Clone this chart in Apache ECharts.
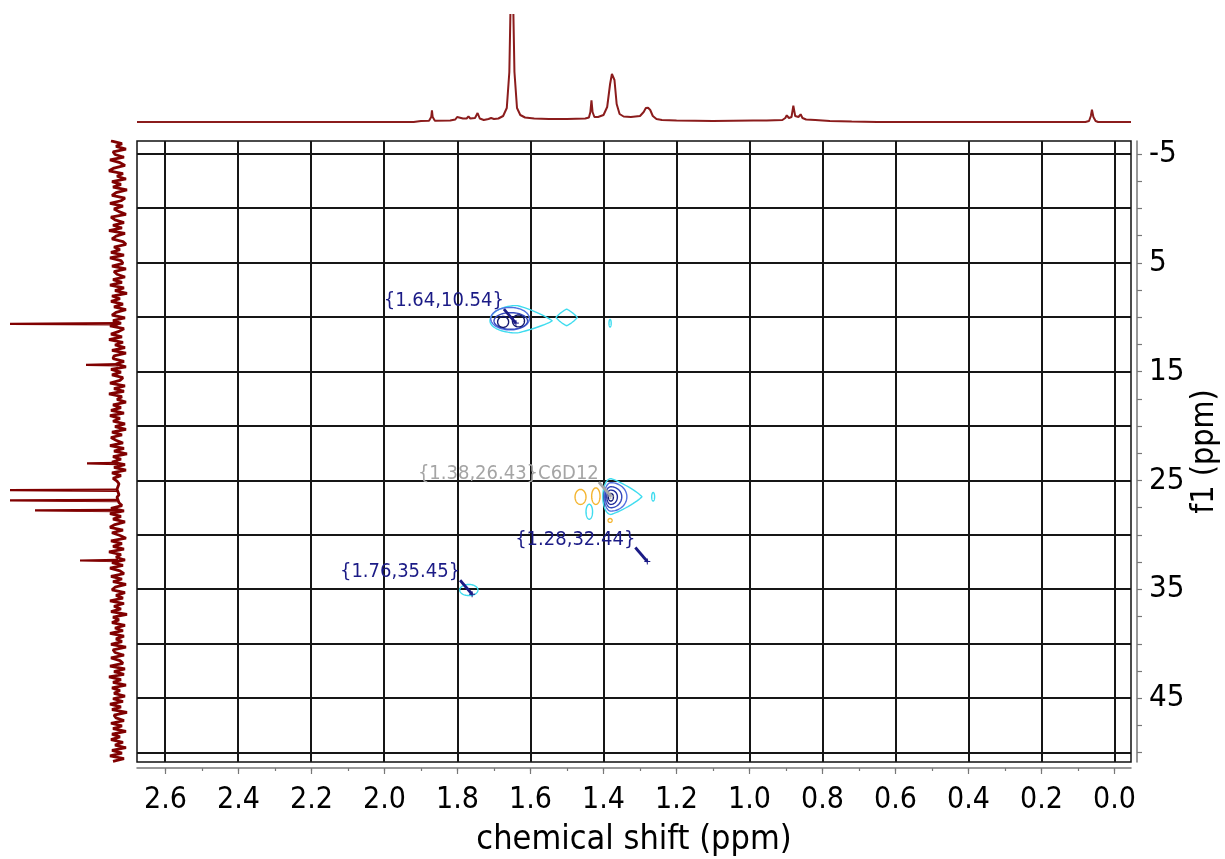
<!DOCTYPE html>
<html>
<head>
<meta charset="utf-8">
<script src="https://cdn.jsdelivr.net/npm/echarts@6/dist/echarts.min.js"></script>
<style>
  html, body { margin: 0; padding: 0; background: #fff; }
  #chart { width: 1225px; height: 859px; }
</style>
</head>
<body>
<div id="chart"></div>
<script>
// ---- axes (1H chemical shift horizontally, 13C f1 vertically) ----
const shiftRange = [-0.045, 2.678];
const f1Range = [-6.19, 50.86];
const shiftTicks = [2.6, 2.4, 2.2, 2.0, 1.8, 1.6, 1.4, 1.2, 1.0, 0.8, 0.6, 0.4, 0.2, 0.0];
const shiftMinorTicks = [2.6, 2.5, 2.4, 2.3, 2.2, 2.1, 2.0, 1.9, 1.8, 1.7, 1.6, 1.5, 1.4, 1.3, 1.2, 1.1,
  1.0, 0.9, 0.8, 0.7, 0.6, 0.5, 0.4, 0.3, 0.2, 0.1, 0.0];
const f1Labels = [-5, 5, 15, 25, 35, 45];
const f1Grid = [-5, 0, 5, 10, 15, 20, 25, 30, 35, 40, 45, 50];
const f1MinorTicks = [-5, -2.5, 0, 2.5, 5, 7.5, 10, 12.5, 15, 17.5, 20, 22.5, 25, 27.5, 30, 32.5,
  35, 37.5, 40, 42.5, 45, 47.5, 50];

// ---- 1H projection (top): [ppm, intensity] ----
const protonTrace = [
  [2.678, 0], [1.92, 0], [1.90, 1], [1.878, 1.2], [1.872, 5], [1.870, 11.7], [1.868, 5], [1.862, 1.3],
  [1.82, 1.5], [1.806, 2.5], [1.801, 5], [1.796, 3], [1.785, 3.5], [1.775, 3.5], [1.770, 5.7],
  [1.765, 3.5], [1.752, 4], [1.745, 9], [1.739, 3.5], [1.728, 2], [1.715, 3], [1.708, 4], [1.700, 3],
  [1.688, 3.5], [1.675, 6], [1.665, 14], [1.658, 50], [1.654, 130], [1.651, 160], [1.648, 130],
  [1.644, 50], [1.637, 14], [1.628, 7], [1.615, 4.5], [1.59, 3.5], [1.55, 3], [1.50, 3], [1.45, 3.5],
  [1.440, 4.5], [1.436, 10], [1.433, 21.7], [1.430, 10], [1.425, 5], [1.415, 5], [1.400, 7],
  [1.390, 15], [1.382, 38], [1.377, 48], [1.374, 49], [1.370, 42], [1.364, 18], [1.356, 8],
  [1.345, 5.5], [1.325, 5], [1.300, 6], [1.290, 10], [1.284, 14], [1.278, 14.3], [1.272, 12],
  [1.265, 6], [1.255, 3], [1.24, 2], [1.20, 1.5], [1.10, 1], [0.99, 1.5], [0.970, 1.5], [0.968, 3],
  [0.965, 1.5], [0.953, 1.5], [0.951, 3], [0.948, 1.5], [0.91, 2], [0.902, 4], [0.898, 6.7],
  [0.892, 4], [0.885, 5], [0.880, 16.3], [0.875, 6], [0.866, 5], [0.860, 7.7], [0.855, 4],
  [0.845, 2.5], [0.82, 2], [0.78, 1], [0.72, 0.5], [0.65, 0], [0.08, 0], [0.070, 1], [0.065, 6],
  [0.062, 12.3], [0.058, 5], [0.052, 1], [0.045, 0], [-0.045, 0]
];

// ---- 13C projection (left): baseline noise sampled every 0.25 ppm, plus peaks [f1, intensity] ----
const carbonNoiseStart = -6.2;
const carbonNoiseStep = 0.25;
const carbonNoise = [
  7, -4, 2, -8, 5, 3, -6, 8, -2, -7, 4, 9, -5, 1, -8, 6, -3, 5, -9, 2,
  6, -7, -3, 8, -5, 4, -1, -8, 7, 3, -6, 5, -4, 9, -7, 2, 6, -5, -8, 4,
  -2, 7, -6, 8, -3, -5, 6, -8, 4, 1, -7, 5, -4, 8, -6, 3, -9, 6, -2, 7,
  -5, 4, -8, 2, 6, -7, 5, -3, 8, -6, -1, 7, -4, 9, -5, 3, -7, 6, -8, 4,
  5, -6, 2, -8, 7, -3, 6, -5, -2, 8, -7, 4, -6, 9, -4, 1, -8, 5, -3, 7,
  -6, 8, -2, 5, -7, 3, -8, 6, -4, 7, 2, -5, 8, -6, 4, -9, 5, -3, 6, -7,
  4, -8, 6, -3, 5, 1, -1, 0, 1, 0, -1, 1, 0, -1, -4, 7, -6, 8, -3, 5,
  -7, 3, 8, -5, 6, -2, -8, 7, -4, 5, -6, 9, -3, 2, -7, 6, -5, 8, -2, -6,
  7, -4, 5, -8, 3, 6, -7, 2, -5, 8, -6, 4, -3, 7, -9, 5, -1, 6, -7, 3,
  -5, 8, -6, 2, -4, 7, -8, 5, 3, -6, 7, -2, -5, 8, -7, 4, -6, 9, -3, 5,
  -8, 6, -2, 4, -7, 5, -5, 8, -3, 6, -9, 4, 2, -6, 7, -4, 5, -8, 6, -2,
  7, -5, 3, -8, 6, -4, 8, -6, 5
];
const carbonPeaks = [
  [10.61, 108], [14.37, 32], [23.43, 31], [25.89, 108], [26.83, 108], [27.75, 83], [32.35, 38]
];

// ---- HSQC contours: [center 1H, center 13C, extent to higher ppm, extent to lower ppm,
//      extent up (13C), extent down (13C), level, shape] ----
const contours = [
  [1.637, 10.33, 0.074, 0.096, 1.40, 1.11, 0, 1],
  [1.656, 10.13, 0.053, 0.053, 1.03, 1.03, 1, 0],
  [1.654, 10.34, 0.046, 0.046, 0.76, 0.76, 2, 0],
  [1.675, 10.43, 0.015, 0.015, 0.50, 0.50, 4, 0],
  [1.633, 10.34, 0.0165, 0.0165, 0.55, 0.55, 4, 0],
  [1.501, 10.02, 0.029, 0.029, 0.76, 0.76, 0, 2],
  [1.382, 10.55, 0.003, 0.003, 0.35, 0.35, 0, 0],
  [1.380, 26.49, 0.022, 0.085, 1.66, 1.63, 0, 1],
  [1.380, 26.49, 0.018, 0.044, 1.29, 1.32, 1, 0],
  [1.380, 26.49, 0.015, 0.030, 0.92, 1.01, 2, 0],
  [1.380, 26.49, 0.011, 0.018, 0.61, 0.71, 3, 0],
  [1.380, 26.49, 0.0066, 0.0071, 0.30, 0.40, 4, 0],
  [1.264, 26.49, 0.004, 0.004, 0.39, 0.39, 0, 0],
  [1.463, 26.51, 0.015, 0.015, 0.69, 0.69, 5, 0],
  [1.421, 26.44, 0.0115, 0.0115, 0.76, 0.76, 5, 0],
  [1.439, 27.87, 0.009, 0.009, 0.69, 0.69, 0, 0],
  [1.382, 28.67, 0.0055, 0.0055, 0.18, 0.18, 5, 0],
  [1.769, 35.06, 0.025, 0.025, 0.51, 0.51, 0, 0]
];

// ---- peak annotations: [1H ppm, 13C ppm, compound] ----
const peakLabels = [
  [1.64, 10.54, ''],
  [1.38, 26.43, 'C6D12'],
  [1.28, 32.44, ''],
  [1.76, 35.45, '']
];

const FONT = '"DejaVu Sans Condensed", "DejaVu Sans", sans-serif';
const levelColors = ['#3fdcef', '#5170e0', '#3347bb', '#202c9c', '#10166e', '#f4b530'];

const chart = echarts.init(document.getElementById('chart'), null, { renderer: 'canvas' });

function gridItem(params, api) {
  const children = [];
  shiftTicks.forEach(function (v) {
    const a = api.coord([v, f1Range[0]]);
    const b = api.coord([v, f1Range[1]]);
    const x = Math.round(a[0]);
    children.push({ type: 'line', shape: { x1: x, y1: a[1], x2: x, y2: b[1] },
      style: { stroke: '#161616', lineWidth: 2 } });
  });
  f1Grid.forEach(function (v) {
    const a = api.coord([shiftRange[1], v]);
    const b = api.coord([shiftRange[0], v]);
    const y = Math.round(a[1]);
    children.push({ type: 'line', shape: { x1: a[0], y1: y, x2: b[0], y2: y },
      style: { stroke: '#161616', lineWidth: 2 } });
  });
  return { type: 'group', children: children };
}

function contourItem(params, api) {
  const cx = api.value(0), cy = api.value(1);
  const L = api.value(2), R = api.value(3), T = api.value(4), B = api.value(5);
  const level = api.value(6), kind = api.value(7);
  const c = api.coord([cx, cy]);
  const lp = Math.abs(api.coord([cx + L, cy])[0] - c[0]);
  const rp = Math.abs(api.coord([cx - R, cy])[0] - c[0]);
  const tp = Math.abs(api.coord([cx, cy - T])[1] - c[1]);
  const bp = Math.abs(api.coord([cx, cy + B])[1] - c[1]);
  const pts = [];
  const n = 72;
  for (let k = 0; k < n; k++) {
    const t = k / n * Math.PI * 2;
    const co = Math.cos(t), si = Math.sin(t);
    const right = co >= 0;
    const sharp = (kind === 1 && right) || kind === 2;
    const e = sharp ? 1.7 : 1;
    const fx = Math.sign(co) * Math.pow(Math.abs(co), e);
    const fy = Math.sign(si) * Math.pow(Math.abs(si), e);
    pts.push([c[0] + fx * (right ? rp : lp), c[1] + fy * (si >= 0 ? bp : tp)]);
  }
  return { type: 'polygon', shape: { points: pts },
    style: { fill: 'none', stroke: levelColors[level], lineWidth: 1.4 } };
}

function labelItem(params, api) {
  const item = peakLabels[params.dataIndex];
  const p = api.coord([api.value(0), api.value(1)]);
  const col = item[2] ? '#a5a5a5' : '#1b1b86';
  const text = '{' + item[0].toFixed(2) + ',' + item[1].toFixed(2) + '}' + item[2];
  return { type: 'group', children: [
    { type: 'line', shape: { x1: p[0] - 12, y1: p[1] - 14, x2: p[0], y2: p[1] },
      style: { stroke: col, lineWidth: 2.8 } },
    { type: 'line', shape: { x1: p[0] - 3, y1: p[1], x2: p[0] + 3, y2: p[1] },
      style: { stroke: col, lineWidth: 1 } },
    { type: 'line', shape: { x1: p[0], y1: p[1] - 3, x2: p[0], y2: p[1] + 3 },
      style: { stroke: col, lineWidth: 1 } },
    { type: 'text', style: { text: text, x: p[0] - 12, y: p[1] - 22, align: 'right',
      verticalAlign: 'middle', fill: col, font: '20px ' + FONT } }
  ] };
}

const hidden = { show: false };

const option = {
  animation: false,
  backgroundColor: '#ffffff',
  grid: [
    { left: 137, top: 141, width: 994, height: 621, show: true, borderColor: '#111', borderWidth: 1.5,
      backgroundColor: 'transparent', containLabel: false, outerBoundsMode: 'none' },
    { left: 137, top: 15, width: 994, height: 107, containLabel: false, outerBoundsMode: 'none' },
    { left: 0, top: 141, width: 137, height: 621, containLabel: false, outerBoundsMode: 'none' }
  ],
  xAxis: [
    { gridIndex: 0, type: 'value', min: shiftRange[0], max: shiftRange[1], inverse: true, show: false },
    { gridIndex: 0, type: 'value', min: shiftRange[0], max: shiftRange[1], inverse: true,
      position: 'bottom', offset: 6,
      axisLine: { show: true, onZero: false, lineStyle: { color: '#777', width: 1.5 } },
      axisTick: { show: true, customValues: shiftTicks, length: 6, lineStyle: { color: '#777', width: 1.2 } },
      axisLabel: { show: true, customValues: shiftTicks, formatter: function (v) { return v.toFixed(1); },
        fontSize: 30, color: '#000', fontFamily: FONT, margin: 17 },
      splitLine: hidden,
      name: 'chemical shift (ppm)', nameLocation: 'middle', nameGap: 55,
      nameTextStyle: { fontSize: 34, color: '#000', fontFamily: FONT } },
    { gridIndex: 0, type: 'value', min: shiftRange[0], max: shiftRange[1], inverse: true,
      position: 'bottom', offset: 6,
      axisLine: { show: false, onZero: false },
      axisTick: { show: true, customValues: shiftMinorTicks, length: 3, lineStyle: { color: '#777', width: 1.2 } },
      axisLabel: hidden, splitLine: hidden },
    { gridIndex: 1, type: 'value', min: shiftRange[0], max: shiftRange[1], inverse: true, show: false },
    { gridIndex: 2, type: 'value', min: -19, max: 118, inverse: true, show: false }
  ],
  yAxis: [
    { gridIndex: 0, type: 'value', min: f1Range[0], max: f1Range[1], inverse: true, show: false },
    { gridIndex: 0, type: 'value', min: f1Range[0], max: f1Range[1], inverse: true,
      position: 'right', offset: 6,
      axisLine: { show: true, onZero: false, lineStyle: { color: '#777', width: 1.5 } },
      axisTick: { show: true, customValues: f1MinorTicks, length: 5, lineStyle: { color: '#777', width: 1.2 } },
      axisLabel: { show: true, customValues: f1Labels, fontSize: 31, color: '#000', fontFamily: FONT,
        margin: 12, padding: [14, 0, 0, 0] },
      splitLine: hidden,
      name: 'f1 (ppm)', nameLocation: 'middle', nameRotate: 90, nameGap: 52, nameMoveOverlap: false,
      nameTextStyle: { fontSize: 32, color: '#000', fontFamily: FONT } },
    { gridIndex: 1, type: 'value', min: 0, max: 107, show: false },
    { gridIndex: 2, type: 'value', min: f1Range[0], max: f1Range[1], inverse: true, show: false }
  ],
  series: [
    { type: 'custom', xAxisIndex: 0, yAxisIndex: 0, data: [[1, 20]], renderItem: gridItem,
      silent: true, z: 1, clip: false },
    { type: 'custom', xAxisIndex: 0, yAxisIndex: 0, data: contours, renderItem: contourItem,
      encode: { x: 0, y: 1 }, silent: true, z: 3, clip: true },
    { type: 'custom', xAxisIndex: 0, yAxisIndex: 0, data: peakLabels.map(function (p) { return [p[0], p[1]]; }),
      renderItem: labelItem, encode: { x: 0, y: 1 }, silent: true, z: 4, clip: false },
    { type: 'line', xAxisIndex: 3, yAxisIndex: 2, data: protonTrace, showSymbol: false, symbol: 'none',
      lineStyle: { color: '#8b1c1c', width: 2 }, silent: true, clip: true },
    { type: 'line', xAxisIndex: 4, yAxisIndex: 3,
      data: carbonNoise.map(function (a, i) { return [a, carbonNoiseStart + i * carbonNoiseStep]; }),
      showSymbol: false, symbol: 'none', lineStyle: { color: '#800000', width: 2.8 }, silent: true, clip: true }
  ].concat(carbonPeaks.map(function (pk) {
    return { type: 'line', xAxisIndex: 4, yAxisIndex: 3,
      data: [[0, pk[0] - 0.06], [pk[1], pk[0]], [0, pk[0] + 0.06]],
      showSymbol: false, symbol: 'none', lineStyle: { color: '#800000', width: 2.2 }, silent: true, clip: true };
  }))
};

chart.setOption(option);
</script>
</body>
</html>
